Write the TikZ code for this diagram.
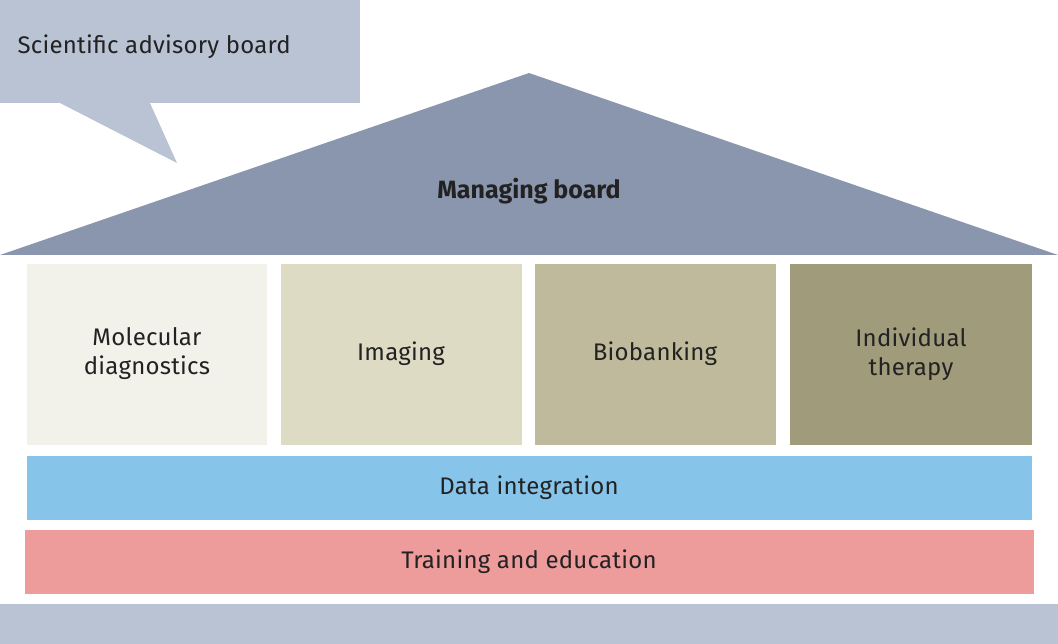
\documentclass[tikz,border=0pt]{standalone}
\usepackage{fontspec}
\setmainfont{Fira Sans}
\definecolor{bub}{HTML}{B9C3D4}
\definecolor{roof}{HTML}{8A95AE}
\definecolor{c1}{HTML}{F2F1EA}
\definecolor{c2}{HTML}{DEDBC4}
\definecolor{c3}{HTML}{BFBA9B}
\definecolor{c4}{HTML}{A09B7B}
\definecolor{blu}{HTML}{87C4EA}
\definecolor{pnk}{HTML}{EE9B9C}
\definecolor{txt}{HTML}{222222}
\begin{document}
\begin{tikzpicture}[x=1pt,y=-1pt,
  lbl/.style={text=txt,font=\fontsize{24}{29}\selectfont\addfontfeature{LetterSpace=1},align=center}]
\useasboundingbox (0,0) rectangle (1058,644);
\fill[bub] (0,0) rectangle (360,103);
\fill[bub] (60,103) -- (177,163) -- (150,103) -- cycle;
\node[lbl,anchor=west] (sab) at (14,47) {Scientific advisory board};
\fill[roof] (0,255) -- (529,73) -- (1058,255) -- cycle;
\node[lbl,font=\fontsize{25}{30}\selectfont\bfseries] (mb) at (529,191) {Managing board};
\fill[c1] (27,264) rectangle (267,445);
\fill[c2] (281,264) rectangle (522,445);
\fill[c3] (535,264) rectangle (776,445);
\fill[c4] (790,264) rectangle (1032,445);
\node[lbl] (md) at (147,354) {Molecular\\diagnostics};
\node[lbl] (im) at (401,354) {Imaging};
\node[lbl] (bb) at (655,354) {Biobanking};
\node[lbl] (it) at (911,354) {Individual\\therapy};
\fill[blu] (27,456) rectangle (1032,520);
\node[lbl] (di) at (529,488) {Data integration};
\fill[pnk] (25,530) rectangle (1034,594);
\node[lbl] (te) at (529,562) {Training and education};
\fill[bub] (0,604) rectangle (1058,644);
\end{tikzpicture}
\end{document}
